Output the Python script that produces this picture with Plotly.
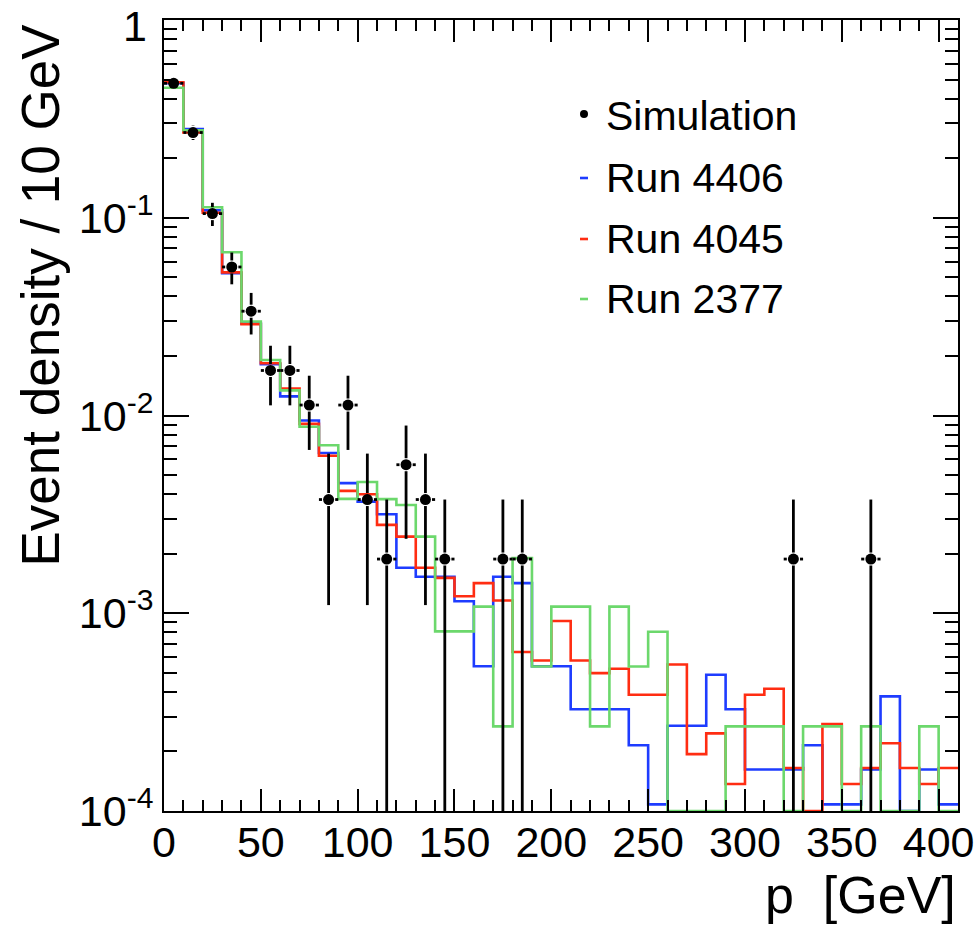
import plotly.graph_objects as go

# ---------------- data ----------------
bin_edges = [10 * i for i in range(42)]  # 0 ... 410 GeV, 10 GeV bins

run_4406 = [0.48, 0.281, 0.109, 0.0524, 0.0292, 0.0182, 0.0125, 0.00944, 0.00647, 0.00455,
            0.00367, 0.00317, 0.0017, 0.00153, 0.00153, 0.00115, 0.00054, 0.00153, 0.00142, 0.00054,
            0.00054, 0.000327, 0.000327, 0.000327, 0.000215, 0.000108, 0.00027, 0.00027, 0.000489, 0.000327,
            0.000162, 0.000162, 0.000162, 0.000215, 0.000108, 0.000108, 0.000162, 0.00038, 0.0, 0.000162,
            0.000108]
run_4045 = [0.485, 0.270, 0.106, 0.053, 0.029, 0.0184, 0.0137, 0.00908, 0.00626, 0.00416,
            0.0040, 0.0028, 0.00244, 0.0017, 0.00151, 0.00122, 0.00142, 0.00116, 0.000637, 0.000577,
            0.000914, 0.000577, 0.000498, 0.000524, 0.000387, 0.000387, 0.000551, 0.000194, 0.000247, 0.000137,
            0.000387, 0.000415, 0.000165, 0.0, 0.000275, 0.000137, 0.000165, 0.00022, 0.000165, 0.000137,
            0.000165]
run_2377 = [0.455, 0.277, 0.113, 0.067, 0.0299, 0.0191, 0.0134, 0.00877, 0.00707, 0.00379,
            0.00461, 0.00378, 0.00353, 0.00244, 0.00081, 0.00081, 0.00108, 0.000268, 0.0019, 0.000538,
            0.00108, 0.00108, 0.000268, 0.00108, 0.000538, 0.000806, 0.0, 0.0, 0.0, 0.000268,
            0.000268, 0.000268, 0.0, 0.000268, 0.000268, 0.0, 0.000268, 0.0, 0.0, 0.000268,
            0.0]

sim_p = [5, 15, 25, 35, 45, 55, 65, 75, 85, 95, 105, 115, 125, 135, 145, 175, 185, 325, 365]
sim_density = [0.479, 0.270, 0.105, 0.0564, 0.0337, 0.0169, 0.0169, 0.0113, 0.00376, 0.0113,
               0.00376, 0.00188, 0.00564, 0.00376, 0.00188, 0.00188, 0.00188, 0.00188, 0.00188]
sim_err = [0.030, 0.0226, 0.0141, 0.0103, 0.0080, 0.00564, 0.00564, 0.0046, 0.00266, 0.0046,
           0.00266, 0.00188, 0.00326, 0.00266, 0.00188, 0.00188, 0.00188, 0.00188, 0.00188]

x_tick_vals = [0, 50, 100, 150, 200, 250, 300, 350, 400]
y_tick_vals = [1e-4, 1e-3, 1e-2, 1e-1, 1]
y_tick_text = ["10<sup>-4</sup>", "10<sup>-3</sup>", "10<sup>-2</sup>", "10<sup>-1</sup>", "1"]

series = [("Run 4406", run_4406, "#1e3cff"),
          ("Run 4045", run_4045, "#ff2d12"),
          ("Run 2377", run_2377, "#6cd86c")]

# ---------------- styling constants ----------------
Y_FLOOR = 1e-4
FONT = "Liberation Sans, Arial, Helvetica, sans-serif"
TICK_SIZE = 43
GAP_DEC = 6.5 / 197.7      # marker gap in decades
GAP_X = 3.4                # marker gap in GeV

fig = go.Figure()

for name, vals, col in series:
    yv = [v if v > 0 else Y_FLOOR for v in vals]
    fig.add_trace(go.Scatter(
        x=bin_edges, y=yv + [yv[-1]], mode="lines", name=name,
        line=dict(color=col, width=2.6, shape="hv"), showlegend=False, hoverinfo="skip"))

# simulation error bars (with a gap around the marker, ROOT style)
half_w = (bin_edges[1] - bin_edges[0]) / 2
ex, ey = [], []
for x, v, e in zip(sim_p, sim_density, sim_err):
    up0, up1 = v * 10 ** GAP_DEC, v + e
    if up1 > up0:
        ex += [x, x, None]; ey += [up0, up1, None]
    lo0, lo1 = v - e, v / 10 ** GAP_DEC
    if lo0 <= 0:
        lo0 = Y_FLOOR / 10
    if lo0 < lo1:
        ex += [x, x, None]; ey += [lo0, lo1, None]
    ex += [x - half_w, x - GAP_X, None, x + GAP_X, x + half_w, None]
    ey += [v, v, None, v, v, None]

fig.add_trace(go.Scatter(x=ex, y=ey, mode="lines", line=dict(color="black", width=2.8),
                         showlegend=False, hoverinfo="skip"))
fig.add_trace(go.Scatter(x=sim_p, y=sim_density, mode="markers", name="Simulation",
                         marker=dict(color="black", size=11), showlegend=False))

# ---------------- geometry ----------------
W, H = 978, 932
PL, PR, PT, PB = 164, 958, 20, 811          # plot frame in page pixels
ML, MR, MT, MB = PL, W - PR, PT, H - PB
pw, ph = W - ML - MR, H - MT - MB


def px_to_paper(px, py):
    return (px - PL) / pw, (PB - py) / ph


# ---------------- manual legend ----------------
leg_items = [("Simulation", None), ("Run 4406", "#1e3cff"), ("Run 4045", "#ff2d12"), ("Run 2377", "#6cd86c")]
leg_y = [116, 178, 239, 299]
for (txt, col), yy in zip(leg_items, leg_y):
    tx, ty = px_to_paper(604, yy)
    fig.add_annotation(x=tx, y=ty, xref="paper", yref="paper", text=txt, showarrow=False,
                       xanchor="left", yanchor="middle", font=dict(family=FONT, size=41, color="black"))
    if col is None:
        cx, cy = px_to_paper(584, yy - 2)
        fig.add_shape(type="circle", xref="paper", yref="paper",
                      x0=cx - 4 / pw, x1=cx + 4 / pw, y0=cy - 4 / ph, y1=cy + 4 / ph,
                      fillcolor="black", line=dict(width=0))
    else:
        x0, y0 = px_to_paper(580, yy)
        x1, _ = px_to_paper(588, yy)
        fig.add_shape(type="line", xref="paper", yref="paper", x0=x0, x1=x1, y0=y0, y1=y0,
                      line=dict(color=col, width=2.6))

# axis titles
tx, ty = px_to_paper(958, 895)
fig.add_annotation(x=tx, y=ty, xref="paper", yref="paper", text="p  [GeV]", showarrow=False,
                   xanchor="right", yanchor="middle", font=dict(family=FONT, size=52, color="black"))
tx, ty = px_to_paper(40, 22)
fig.add_annotation(x=tx, y=ty, xref="paper", yref="paper", text="Event density / 10 GeV",
                   showarrow=False, textangle=-90, xanchor="center", yanchor="top",
                   font=dict(family=FONT, size=53, color="black"))

# the top tick label ("1") sits at the very top of the canvas: draw it as an
# annotation anchored to the canvas top so that it is not cut off
top_label = y_tick_text[-1]
axis_text = y_tick_text[:-1] + [""]
tx, ty = px_to_paper(149, 0)
fig.add_annotation(x=tx, y=ty, xref="paper", yref="paper", text=top_label, showarrow=False,
                   xanchor="right", yanchor="top", font=dict(family=FONT, size=TICK_SIZE, color="black"))

minor_y = [m * 10 ** d for d in range(-4, 0) for m in range(2, 10)]

fig.update_layout(
    width=W, height=H, margin=dict(l=ML, r=MR, t=MT, b=MB, autoexpand=False),
    paper_bgcolor="white", plot_bgcolor="white", showlegend=False,
    xaxis=dict(range=[bin_edges[0], bin_edges[-1]], tickmode="array", tickvals=x_tick_vals,
               ticks="inside", ticklen=22, tickwidth=2, tickcolor="black",
               minor=dict(tickmode="array", tickvals=bin_edges, ticks="inside", ticklen=11,
                          tickwidth=2, tickcolor="black", showgrid=False),
               showline=True, linewidth=2, linecolor="black", mirror="ticks",
               showgrid=False, zeroline=False, automargin=False, ticklabelstandoff=-8,
               ticklabeloverflow="allow",
               tickfont=dict(family=FONT, size=TICK_SIZE, color="black")),
    yaxis=dict(type="log", range=[-4, 0.0004], tickmode="array", tickvals=y_tick_vals, ticktext=axis_text,
               ticks="inside", ticklen=25, tickwidth=2, tickcolor="black",
               minor=dict(tickmode="array", tickvals=minor_y, ticks="inside", ticklen=13,
                          tickwidth=2, tickcolor="black", showgrid=False),
               showline=True, linewidth=2, linecolor="black", mirror="ticks",
               showgrid=False, zeroline=False, automargin=False, ticklabeloverflow="allow",
               tickfont=dict(family=FONT, size=TICK_SIZE, color="black")),
)

# remove the browser's default 8px body margin so the figure fills the window
fig.write_html("out.html", config={"displayModeBar": False},
               post_script="document.body.style.margin='0';document.body.style.overflow='hidden';")
